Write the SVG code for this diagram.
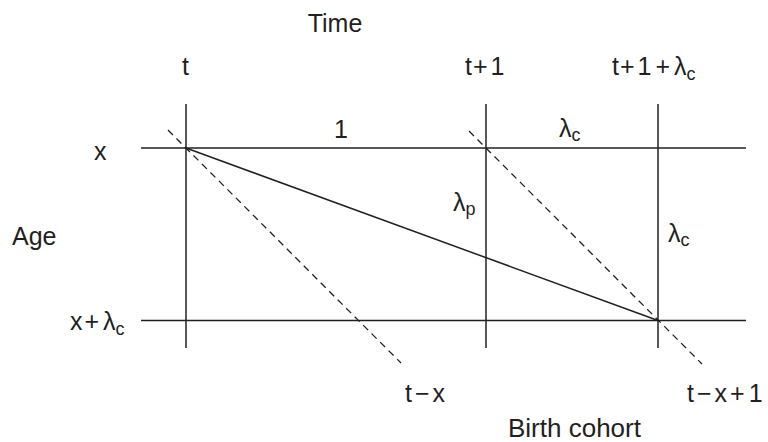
<svg xmlns="http://www.w3.org/2000/svg" width="768" height="442" viewBox="0 0 768 442">
<style>
.ln{stroke:#231f20;stroke-width:1.5;fill:none}
.ds{stroke:#231f20;stroke-width:1.3;fill:none;stroke-dasharray:7 5}
text{font-family:"Liberation Sans",Arial,sans-serif;font-size:25px;fill:#231f20}
.sub{font-size:18px}
</style>
<rect width="768" height="442" fill="#fff"/>
<g id="connectors">
<line class="ln" x1="141" y1="148" x2="746" y2="148"/>
<line class="ln" x1="141" y1="320.5" x2="746" y2="320.5"/>
<line class="ln" x1="186" y1="104" x2="186" y2="348"/>
<line class="ln" x1="486" y1="104" x2="486" y2="348"/>
<line class="ln" x1="658" y1="104" x2="658" y2="348"/>
<line class="ln" x1="186" y1="148" x2="658" y2="320.5"/>
<line class="ds" x1="168" y1="130" x2="401" y2="363"/>
<line class="ds" x1="469" y1="131" x2="702" y2="364"/>
</g>
<g id="axis-time"><text x="335" y="32" text-anchor="middle">Time</text></g>
<g id="axis-age"><text x="12" y="245">Age</text></g>
<g id="axis-cohort"><text x="508" y="437" style="font-size:26px">Birth cohort</text></g>
<g id="label-t"><text x="182" y="75">t</text></g>
<g id="label-t1"><text x="465" y="75">t<tspan dx="1">+</tspan><tspan dx="3">1</tspan></text></g>
<g id="label-t1lc"><text x="612" y="75">t<tspan dx="1">+</tspan><tspan dx="3">1</tspan><tspan dx="4">+</tspan><tspan dx="4">λ</tspan><tspan class="sub" dy="5">c</tspan></text></g>
<g id="label-x"><text x="94" y="160">x</text></g>
<g id="label-xlc"><text x="70" y="330">x<tspan dx="2">+</tspan><tspan dx="4">λ</tspan><tspan class="sub" dy="5">c</tspan></text></g>
<g id="label-1"><text x="341" y="138" text-anchor="middle">1</text></g>
<g id="label-lc-top"><text x="559" y="137">λ<tspan class="sub" dy="4">c</tspan></text></g>
<g id="label-lp"><text x="453" y="211">λ<tspan class="sub" dy="4">p</tspan></text></g>
<g id="label-lc-right"><text x="668" y="242">λ<tspan class="sub" dy="4">c</tspan></text></g>
<g id="label-tx"><text x="405" y="402">t<tspan dx="3">−</tspan><tspan dx="3">x</tspan></text></g>
<g id="label-tx1"><text x="687" y="402">t<tspan dx="3">−</tspan><tspan dx="3">x</tspan><tspan dx="3">+</tspan><tspan dx="4">1</tspan></text></g>
</svg>
